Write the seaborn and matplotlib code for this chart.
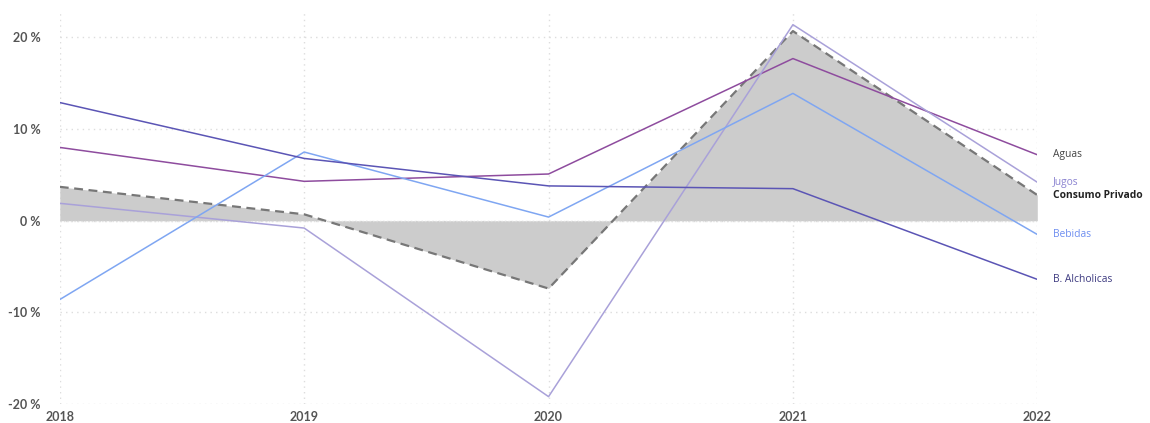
import pandas as pd
import numpy as np
import matplotlib.pyplot as plt
import seaborn as sns

# data (annual % change)
years = [2018, 2019, 2020, 2021, 2022]
consumo_privado = [3.7, 0.7, -7.4, 20.7, 2.8]
aguas = [8.0, 4.3, 5.1, 17.7, 7.2]
jugos = [1.9, -0.8, -19.2, 21.4, 4.2]
bebidas = [-8.6, 7.5, 0.4, 13.9, -1.5]
alcoholicas = [12.9, 6.8, 3.8, 3.5, -6.4]

series = {
    "Aguas": aguas,
    "Jugos": jugos,
    "Bebidas": bebidas,
    "B. Alcholicas": alcoholicas,
}
line_colors = {
    "Aguas": "#8e4c9e",
    "Jugos": "#a9a1d9",
    "Bebidas": "#7fa6f2",
    "B. Alcholicas": "#5b55b5",
}
label_colors = {
    "Aguas": "#444444",
    "Jugos": "#8a82d0",
    "Bebidas": "#6e8ef0",
    "B. Alcholicas": "#3d3a80",
}

df = pd.DataFrame(
    [(y, name, v) for name, vals in series.items() for y, v in zip(years, vals)],
    columns=["year", "serie", "value"],
)

sns.set_style("white")
plt.rcParams["font.family"] = ["Lato", "DejaVu Sans"]
label_font = ["Open Sans", "DejaVu Sans"]

fig = plt.figure(figsize=(11.5, 4.23), dpi=100)
ax = fig.add_axes([0.052, 0.045, 0.85, 0.927])

# shaded Consumo Privado
ax.fill_between(years, consumo_privado, 0, color="#cccccc", linewidth=0, zorder=1)
sns.lineplot(data=df, x="year", y="value", hue="serie", palette=line_colors,
             linewidth=1.1, legend=False, ax=ax, zorder=3)
ax.plot(years, consumo_privado, color="#777777", linestyle=(0, (4, 2.5)),
        linewidth=1.6, zorder=2)
ax.axhline(0, color="#e0e0e0", linestyle=(0, (1, 1.5)), linewidth=1.0, zorder=1.5)

ax.set_xlim(2018, 2022)
ax.set_ylim(-20, 22.8)
ax.set_xticks(years)
ax.set_yticks([-20, -10, 0, 10, 20])
ax.set_yticklabels([f"{t} %" for t in [-20, -10, 0, 10, 20]])
ax.set_xlabel("")
ax.set_ylabel("")
ax.grid(True, color="#dddddd", linestyle=(0, (1, 3)), linewidth=1)
for s in ax.spines.values():
    s.set_visible(False)
ax.tick_params(axis="both", length=0, labelsize=9, labelcolor="#555555")
ax.tick_params(axis="x", pad=5)
ax.tick_params(axis="y", pad=14)
for lab in ax.get_xticklabels() + ax.get_yticklabels():
    lab.set_fontweight("bold")

# end labels
for name, vals in series.items():
    ax.annotate(name, xy=(years[-1], vals[-1]), xytext=(11, 0),
                textcoords="offset points", va="center", ha="left",
                fontsize=7.4, family=label_font, color=label_colors[name],
                annotation_clip=False)
ax.annotate("Consumo Privado", xy=(years[-1], consumo_privado[-1]), xytext=(11, 0),
            textcoords="offset points", va="center", ha="left",
            fontsize=7.4, family=label_font, color="#222222", fontweight="bold",
            annotation_clip=False)

fig.savefig("out.png", dpi=100)
